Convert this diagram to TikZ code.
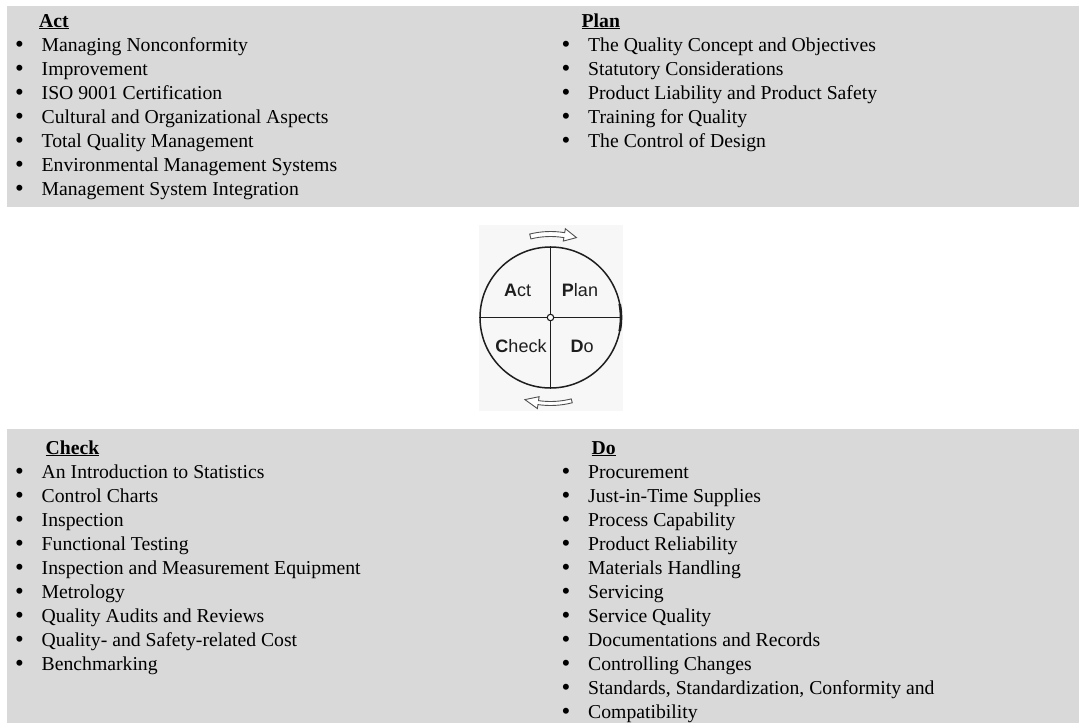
\documentclass[tikz,border=0pt]{standalone}
\usepackage{fontspec}
\setmainfont{Liberation Serif}
\newfontfamily\wheelfont{Liberation Sans}
\usetikzlibrary{calc}
\definecolor{bandgray}{HTML}{D9D9D9}
\definecolor{panelgray}{HTML}{F7F7F7}
\definecolor{inkgray}{HTML}{1E1E1E}
\definecolor{arrowgray}{HTML}{505050}
\begin{document}
\begin{tikzpicture}[x=1pt,y=-1pt,
  listtext/.style={anchor=base west,inner sep=0pt,font=\fontsize{19.7}{24}\selectfont,text=black},
  bulletmark/.style={anchor=base,inner sep=0pt,font=\fontsize{25}{24}\selectfont,text=black},
  heading/.style={anchor=base west,inner sep=0pt,font=\fontsize{19.7}{24}\selectfont\bfseries,text=black},
  quarter/.style={anchor=base,inner sep=0pt,font=\wheelfont\fontsize{18}{20}\selectfont,text=inkgray},
  cyclearrow/.style={draw=arrowgray,fill=white,line width=0.9pt,line join=miter}]
\useasboundingbox (0,0) rectangle (1079,723);

% background bands and the panel behind the wheel
\fill[bandgray] (7,6) rectangle (1079,207);
\fill[bandgray] (7,429) rectangle (1079,723);
\fill[panelgray] (479,225) rectangle (623,411);

% Act
\node[heading] (acth) at (39,27) {\underline{Act}};
\foreach [count=\i] \t in {Managing Nonconformity,Improvement,ISO 9001 Certification,
  Cultural and Organizational Aspects,Total Quality Management,
  Environmental Management Systems,Management System Integration}{
  \node[bulletmark] (actb\i) at (19.5,{28+24*\i}) {\textbullet};
  \node[listtext] (act\i) at (41.5,{27+24*\i}) {\t};
}

% Plan
\node[heading] (planh) at (581.5,27) {\underline{Plan}};
\foreach [count=\i] \t in {The Quality Concept and Objectives,Statutory Considerations,
  Product Liability and Product Safety,Training for Quality,The Control of Design}{
  \node[bulletmark] (planb\i) at (566,{28+24*\i}) {\textbullet};
  \node[listtext] (plan\i) at (588,{27+24*\i}) {\t};
}

% Check
\node[heading] (checkh) at (45.5,454) {\underline{Check}};
\foreach [count=\i] \t in {An Introduction to Statistics,Control Charts,Inspection,
  Functional Testing,Inspection and Measurement Equipment,Metrology,
  Quality Audits and Reviews,Quality- and Safety-related Cost,Benchmarking}{
  \node[bulletmark] (checkb\i) at (19.5,{455+24*\i}) {\textbullet};
  \node[listtext] (check\i) at (41.5,{454+24*\i}) {\t};
}

% Do
\node[heading] (doh) at (591.5,454) {\underline{Do}};
\foreach [count=\i] \t in {Procurement,Just-in-Time Supplies,Process Capability,
  Product Reliability,Materials Handling,Servicing,Service Quality,
  Documentations and Records,Controlling Changes,
  {Standards, Standardization, Conformity and},Compatibility}{
  \node[bulletmark] (dob\i) at (566,{455+24*\i}) {\textbullet};
  \node[listtext] (do\i) at (588,{454+24*\i}) {\t};
}

% PDCA wheel
\coordinate (C) at (550.5,317.5);
\node[circle,draw=inkgray,line width=1.5pt,minimum size=141pt,inner sep=0pt] (wheel) at (C) {};
\draw[inkgray,line width=1.5pt] (wheel.north) -- (wheel.south);
\draw[inkgray,line width=1.5pt] (wheel.west) -- (wheel.east);
\draw[inkgray,line width=2.6pt] ($(C)+(-11:70.5)$) arc[start angle=-11,end angle=11,radius=70.5];
\node[circle,draw=inkgray,fill=white,line width=1.1pt,minimum size=6.5pt,inner sep=0pt] (hub) at (C) {};

\node[quarter] (qact) at (517.5,296) {\textbf{A}ct};
\node[quarter] (qplan) at (580,296) {\textbf{P}lan};
\node[quarter] (qcheck) at (521,352.5) {\textbf{C}heck};
\node[quarter] (qdo) at (582,352.5) {\textbf{D}o};

% rotation arrows above and below the wheel
\draw[cyclearrow] ($(C)+(256:86)$) arc[start angle=256,end angle=279.5,radius=86]
  -- ($(C)+(279.5:90)$) -- ($(C)+(288:84)$) -- ($(C)+(279.5:77.5)$)
  -- ($(C)+(279.5:81)$) arc[start angle=279.5,end angle=256,radius=81] -- cycle;
\draw[cyclearrow] ($(C)+(75.7:88)$) arc[start angle=75.7,end angle=98.2,radius=88]
  -- ($(C)+(98.2:92)$) -- ($(C)+(107.3:86)$) -- ($(C)+(98.2:80)$)
  -- ($(C)+(98.2:84)$) arc[start angle=98.2,end angle=75.7,radius=84] -- cycle;
\end{tikzpicture}
\end{document}
